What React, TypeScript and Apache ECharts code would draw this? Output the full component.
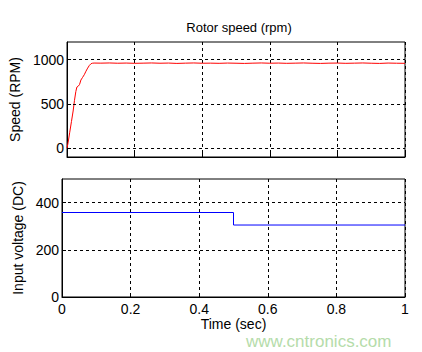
import React, { useEffect, useRef } from "react";
import * as echarts from "echarts";

const speedTime = [0, 0.003, 0.008, 0.013, 0.018, 0.022, 0.026, 0.029, 0.033, 0.037, 0.041, 0.046, 0.051, 0.056, 0.061, 0.066, 0.071, 0.075, 0.08, 0.1, 0.125, 0.15, 0.175, 0.2, 0.225, 0.25, 0.275, 0.3, 0.325, 0.35, 0.375, 0.4, 0.425, 0.45, 0.475, 0.5, 0.525, 0.55, 0.575, 0.6, 0.625, 0.65, 0.675, 0.7, 0.725, 0.75, 0.775, 0.8, 0.825, 0.85, 0.875, 0.9, 0.925, 0.95, 0.975, 1.0];
const speedValues = [0, 60, 180, 300, 420, 540, 640, 690, 700, 720, 770, 800, 830, 870, 905, 935, 955, 960, 962, 961, 963, 960, 962, 959, 961, 963, 960, 962, 958, 961, 963, 960, 961, 959, 962, 960, 958, 961, 963, 960, 962, 959, 961, 963, 960, 958, 961, 962, 959, 961, 963, 960, 958, 962, 960, 959];

const voltTime = [0, 0.5, 0.5, 1.0];
const voltValues = [358, 358, 305, 305];

const xTicks = [0, 0.2, 0.4, 0.6, 0.8, 1];
const speedTicks = [0, 500, 1000];
const voltTicks = [0, 200, 400];

const FONT = "Liberation Sans";

export default function App() {
  const ref = useRef<HTMLDivElement>(null);
  useEffect(() => {
    const chart = echarts.init(ref.current!, null, { renderer: "svg" });
    const dash = { color: "#000", type: [3, 3] as any, width: 1 };
    const axisLine = { show: true, onZero: false, lineStyle: { color: "#000", width: 1 } };
    const plain = (v: number) => String(+v.toFixed(1));
    chart.setOption({
      animation: false,
      backgroundColor: "#fff",
      title: {
        text: "Rotor speed (rpm)",
        left: 234,
        textAlign: "center",
        top: 16,
        textStyle: { fontFamily: FONT, fontSize: 13, fontWeight: "normal", color: "#000" },
      },
      grid: [
        { left: 62, top: 42, width: 343, height: 115, show: true, borderColor: "#000", borderWidth: 1, backgroundColor: "#fff" },
        { left: 62, top: 179, width: 343, height: 118, show: true, borderColor: "#000", borderWidth: 1, backgroundColor: "#fff" },
      ],
      xAxis: [
        {
          type: "value", gridIndex: 0, min: 0, max: 1, interval: 0.2,
          axisLine, axisTick: { show: true, inside: true, length: 4, lineStyle: { color: "#000" } },
          axisLabel: { show: false },
          splitLine: { show: true, lineStyle: dash },
        },
        {
          type: "value", gridIndex: 1, min: 0, max: 1, interval: 0.2,
          axisLine, axisTick: { show: true, inside: true, length: 4, lineStyle: { color: "#000" } },
          axisLabel: { show: true, color: "#000", fontFamily: FONT, fontSize: 14, margin: 5, customValues: xTicks, formatter: plain },
          splitLine: { show: true, lineStyle: dash },
          name: "Time (sec)", nameLocation: "middle", nameGap: 20,
          nameTextStyle: { fontFamily: FONT, fontSize: 14, color: "#000" },
        },
      ],
      yAxis: [
        {
          type: "value", gridIndex: 0, min: -100, max: 1200,
          axisLine,
          axisTick: { show: true, inside: true, length: 4, customValues: speedTicks, lineStyle: { color: "#000" } },
          axisLabel: { show: true, color: "#000", fontFamily: FONT, fontSize: 14, margin: 3, customValues: speedTicks, formatter: plain },
          splitLine: { show: false },
          name: "Speed (RPM)", nameLocation: "middle", nameGap: 34,
          nameTextStyle: { fontFamily: FONT, fontSize: 14, color: "#000" },
        },
        {
          type: "value", gridIndex: 1, min: 0, max: 500, interval: 100,
          axisLine,
          axisTick: { show: true, inside: true, length: 4, customValues: voltTicks, lineStyle: { color: "#000" } },
          axisLabel: { show: true, color: "#000", fontFamily: FONT, fontSize: 14, margin: 3, customValues: voltTicks, formatter: plain },
          splitLine: { show: false },
          name: "Input voltage (DC)", nameLocation: "middle", nameGap: 34,
          nameTextStyle: { fontFamily: FONT, fontSize: 14, color: "#000" },
        },
      ],
      series: [
        {
          type: "line", xAxisIndex: 0, yAxisIndex: 0, symbol: "none",
          data: speedTime.map((t, i) => [t, speedValues[i]]),
          lineStyle: { color: "#ff0000", width: 1 },
          markLine: {
            silent: true, symbol: "none", label: { show: false },
            lineStyle: dash,
            data: speedTicks.map((v) => ({ yAxis: v })),
          },
          z: 3,
        },
        {
          type: "line", xAxisIndex: 1, yAxisIndex: 1, symbol: "none",
          data: voltTime.map((t, i) => [t, voltValues[i]]),
          lineStyle: { color: "#0000ff", width: 1 },
          markLine: {
            silent: true, symbol: "none", label: { show: false },
            lineStyle: dash,
            data: voltTicks.filter((v) => v > 0).map((v) => ({ yAxis: v })),
          },
          z: 3,
        },
      ],
      graphic: [
        {
          type: "text", left: 246, top: 333, z: 10,
          style: { text: "www.cntronics.com", font: `17px ${FONT}`, fill: "#b5dcaa" },
        },
      ],
    });
    return () => chart.dispose();
  }, []);
  return <div ref={ref} style={{ position: "fixed", left: 0, top: 0, width: 422, height: 352 }} />;
}
